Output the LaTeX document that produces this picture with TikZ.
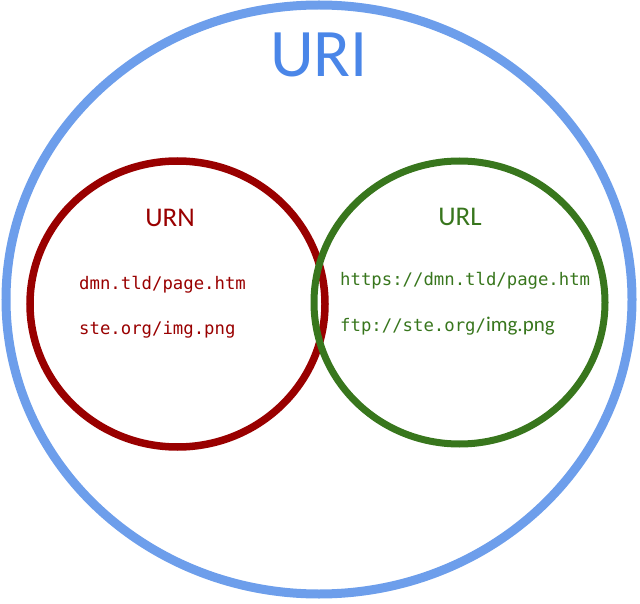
\documentclass[tikz,border=0pt]{standalone}
\usepackage{fontspec}
\newfontfamily\calfont{Carlito}
\newfontfamily\monofont{DejaVu Sans Mono}
\definecolor{uriblue}{HTML}{6D9EEB}
\definecolor{uritext}{HTML}{4A86E8}
\definecolor{urnred}{HTML}{990000}
\definecolor{urlgreen}{HTML}{38761D}
\tikzset{
  codetext/.style={anchor=base west, inner sep=0pt, font=\monofont\fontsize{17.3}{20}\selectfont},
  titletext/.style={anchor=base, inner sep=0pt, font=\calfont\fontsize{27}{30}\selectfont},
}
\begin{document}
\begin{tikzpicture}[x=1pt,y=-1pt]
\useasboundingbox (0,0) rectangle (640,604);
\draw[uriblue, line width=9pt] (319,299.5) ellipse [x radius=313, y radius=294.5];
\draw[urnred, line width=7.5pt] (177.5,304) ellipse [x radius=147.5, y radius=143];
\draw[urlgreen, line width=7pt] (459.5,302.5) ellipse [x radius=145.5, y radius=141.5];
\node[anchor=base, inner sep=0pt, text=uritext, font=\calfont\fontsize{68}{72}\selectfont] (uri) at (319,77) {URI};
\node[titletext, text=urnred] (urn) at (170,227) {URN};
\node[titletext, text=urlgreen] (url) at (460,226) {URL};
\node[codetext, text=urnred] (urn1) at (79,289) {dmn.tld/page.htm};
\node[codetext, text=urnred] (urn2) at (79,334) {ste.org/img.png};
\node[codetext, text=urlgreen] (url1) at (340,285) {https://dmn.tld/page.htm};
\node[codetext, text=urlgreen] (url2) at (340,331) {ftp://ste.org/{\calfont\fontsize{21}{24}\selectfont img.png}};
\end{tikzpicture}
\end{document}
